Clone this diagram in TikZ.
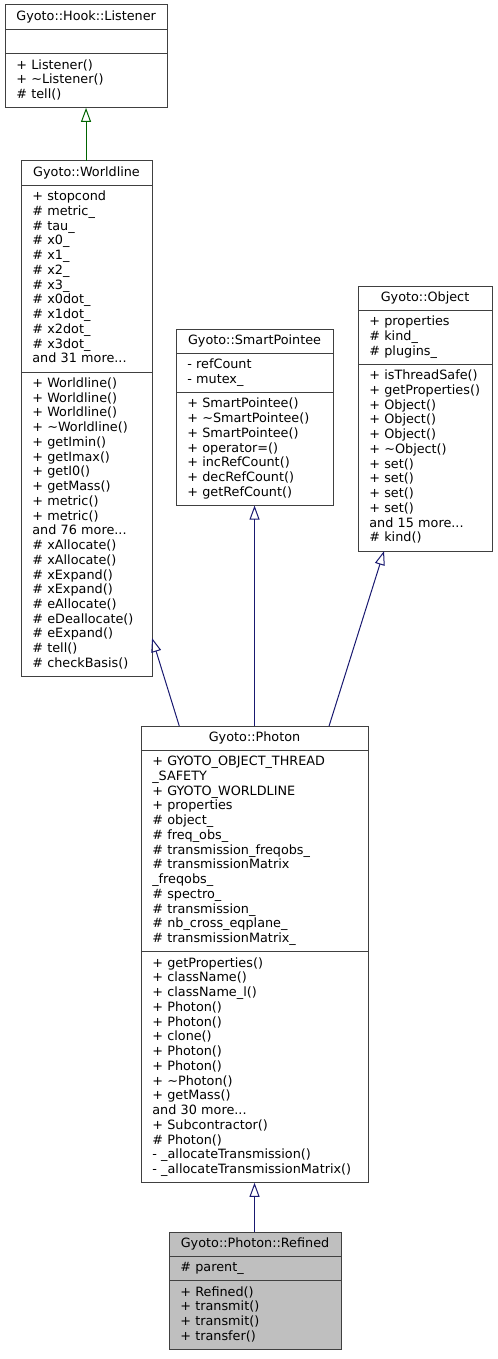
\documentclass[tikz,border=0pt]{standalone}
\usepackage{fontspec}
\setmainfont{DejaVu Sans}
\usetikzlibrary{arrows.meta,positioning}
\definecolor{boxline}{HTML}{404040}
\definecolor{midblue}{HTML}{191970}
\definecolor{dkgreen}{HTML}{006400}
\definecolor{refgray}{HTML}{BFBFBF}
\tikzset{
  part/.style={draw=boxline, line width=0.75pt, outer sep=0pt, inner xsep=8.5pt, inner ysep=3.64pt,
    text width=#1, align=left, font=\fontsize{9.6}{11.06}\selectfont,
    execute at begin node=\strut, execute at end node=\strut},
  title/.style={part=#1, align=center},
  isa/.style={-{Triangle[open,length=10.5pt,width=7.5pt]}, line width=0.75pt, draw=midblue}
}
\begin{document}
\begin{tikzpicture}[x=0.75pt,y=-0.75pt]
\useasboundingbox (0,0) rectangle (498,1359);

\node[title=104.55pt, anchor=north west] (listener) at (5,5) {Gyoto::Hook::Listener};
\node[part=104.55pt, below=0pt of listener] (listenerA) {};
\node[part=104.55pt, below=0pt of listenerA] (listenerM) {+ Listener()\\+ \textasciitilde Listener()\\\# tell()};

\node[title=81.3pt, anchor=north west] (worldline) at (21,161) {Gyoto::Worldline};
\node[part=81.3pt, below=0pt of worldline] (worldlineA) {+ stopcond\\\# metric\_\\\# tau\_\\\# x0\_\\\# x1\_\\\# x2\_\\\# x3\_\\\# x0dot\_\\\# x1dot\_\\\# x2dot\_\\\# x3dot\_\\and 31 more...};
\node[part=81.3pt, below=0pt of worldlineA] (worldlineM) {+ Worldline()\\+ Worldline()\\+ Worldline()\\+ \textasciitilde Worldline()\\+ getImin()\\+ getImax()\\+ getI0()\\+ getMass()\\+ metric()\\+ metric()\\and 76 more...\\\# xAllocate()\\\# xAllocate()\\\# xExpand()\\\# xExpand()\\\# eAllocate()\\\# eDeallocate()\\\# eExpand()\\\# tell()\\\# checkBasis()};

\node[title=100.8pt, anchor=north west] (smart) at (176,329) {Gyoto::SmartPointee};
\node[part=100.8pt, below=0pt of smart] (smartA) {- refCount\\- mutex\_};
\node[part=100.8pt, below=0pt of smartA] (smartM) {+ SmartPointee()\\+ \textasciitilde SmartPointee()\\+ SmartPointee()\\+ operator=()\\+ incRefCount()\\+ decRefCount()\\+ getRefCount()};

\node[title=83.55pt, anchor=north west] (object) at (358,286) {Gyoto::Object};
\node[part=83.55pt, below=0pt of object] (objectA) {+ properties\\\# kind\_\\\# plugins\_};
\node[part=83.55pt, below=0pt of objectA] (objectM) {+ isThreadSafe()\\+ getProperties()\\+ Object()\\+ Object()\\+ Object()\\+ \textasciitilde Object()\\+ set()\\+ set()\\+ set()\\+ set()\\and 15 more...\\\# kind()};

\node[title=153.3pt, anchor=north west] (photon) at (141,726) {Gyoto::Photon};
\node[part=153.3pt, below=0pt of photon] (photonA) {+ GYOTO\_OBJECT\_THREAD\\\_SAFETY\\+ GYOTO\_WORLDLINE\\+ properties\\\# object\_\\\# freq\_obs\_\\\# transmission\_freqobs\_\\\# transmissionMatrix\\\_freqobs\_\\\# spectro\_\\\# transmission\_\\\# nb\_cross\_eqplane\_\\\# transmissionMatrix\_};
\node[part=153.3pt, below=0pt of photonA] (photonM) {+ getProperties()\\+ className()\\+ className\_l()\\+ Photon()\\+ Photon()\\+ clone()\\+ Photon()\\+ Photon()\\+ \textasciitilde Photon()\\+ getMass()\\and 30 more...\\+ Subcontractor()\\\# Photon()\\- \_allocateTransmission()\\- \_allocateTransmissionMatrix()};

\node[title=112.05pt, fill=refgray, anchor=north west] (refined) at (169,1232) {Gyoto::Photon::Refined};
\node[part=112.05pt, fill=refgray, below=0pt of refined] (refinedA) {\# parent\_};
\node[part=112.05pt, fill=refgray, below=0pt of refinedA] (refinedM) {+ Refined()\\+ transmit()\\+ transmit()\\+ transfer()};

\draw[isa, draw=dkgreen] (listenerM.south |- worldline.north) -- (listenerM.south);
\draw[isa] ([xshift=28.7pt]photon.north west) -- ([yshift=29pt]worldlineM.south east);
\draw[isa] (smartM.south |- photon.north) -- (smartM.south);
\draw[isa] ([xshift=-29.25pt]photon.north east) -- ([xshift=-30.75pt]objectM.south);
\draw[isa] (photonM.south |- refined.north) -- (photonM.south);
\end{tikzpicture}
\end{document}
